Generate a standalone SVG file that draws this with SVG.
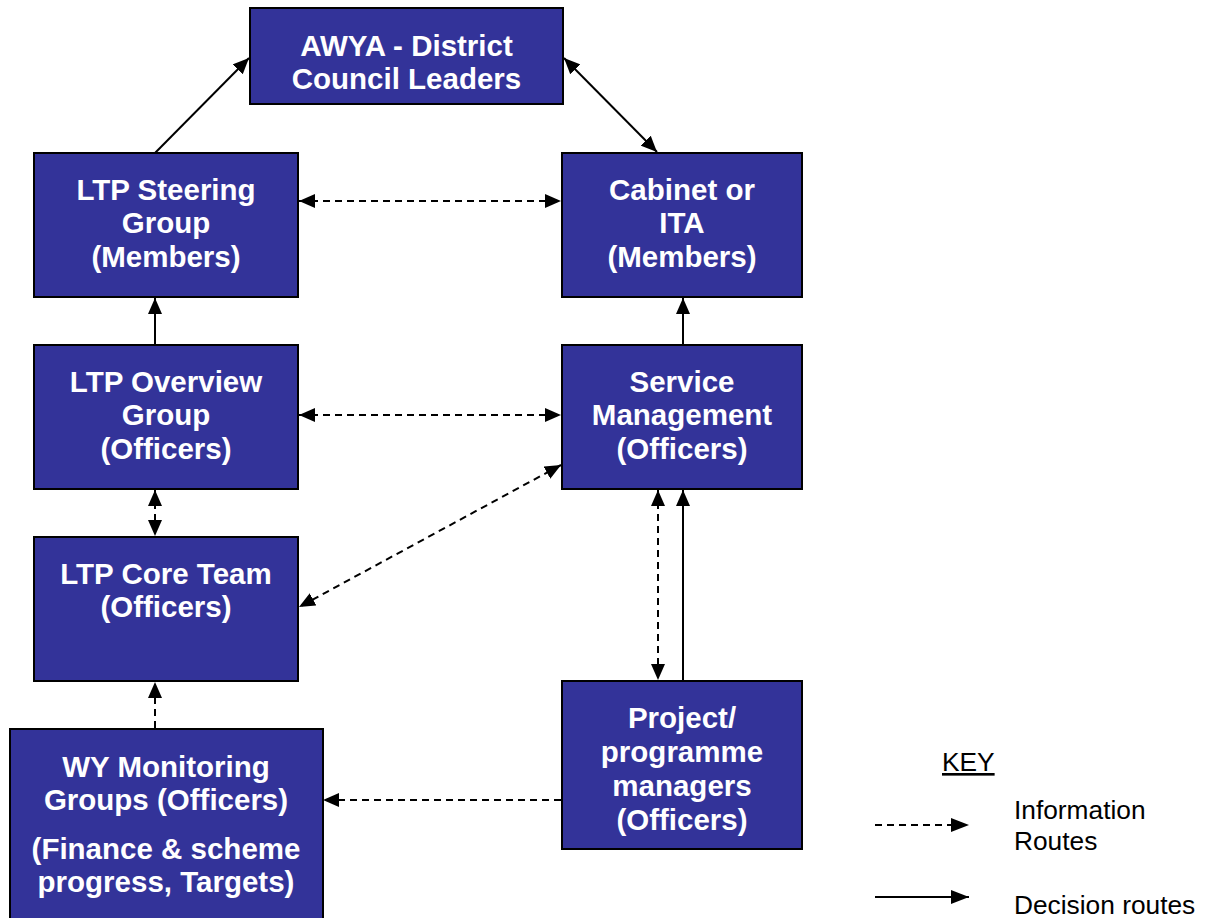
<svg xmlns="http://www.w3.org/2000/svg" width="1207" height="918" viewBox="0 0 1207 918">
<defs>
<style>
.box{fill:#333399;stroke:#000;stroke-width:2}
.t{font-family:"Liberation Sans",Arial,sans-serif;font-weight:bold;font-size:29.5px;fill:#fff;text-anchor:middle}
.k{font-family:"Liberation Sans",Arial,sans-serif;font-size:26.3px;fill:#000}
.c{fill:none;stroke:#000;stroke-width:2}
.d{stroke-dasharray:7 5}
</style>
<marker id="ah" viewBox="0 0 16 14" markerWidth="16" markerHeight="14" refX="16" refY="7" orient="auto-start-reverse" markerUnits="userSpaceOnUse">
<path d="M0,0 L16,7 L0,14 z" fill="#000"/>
</marker>
<marker id="ak" viewBox="0 0 18 14" markerWidth="18" markerHeight="14" refX="18" refY="7" orient="auto" markerUnits="userSpaceOnUse">
<path d="M0,0 L18,7 L0,14 z" fill="#000"/>
</marker>
</defs>
<rect width="1207" height="918" fill="#fff"/>
<g id="connectors">
<line class="c" x1="155" y1="153" x2="249" y2="58" marker-end="url(#ah)"/>
<line class="c" x1="564" y1="58" x2="657" y2="152" marker-start="url(#ah)" marker-end="url(#ah)"/>
<line class="c d" x1="299" y1="201" x2="561" y2="201" marker-start="url(#ah)" marker-end="url(#ah)"/>
<line class="c" x1="155" y1="344" x2="155" y2="298" marker-end="url(#ah)"/>
<line class="c" x1="683" y1="344" x2="683" y2="298" marker-end="url(#ah)"/>
<line class="c d" x1="299" y1="415" x2="561" y2="415" marker-start="url(#ah)" marker-end="url(#ah)"/>
<line class="c d" x1="155" y1="490" x2="155" y2="536" marker-start="url(#ah)" marker-end="url(#ah)"/>
<line class="c d" x1="561" y1="465" x2="299" y2="607" marker-start="url(#ah)" marker-end="url(#ah)"/>
<line class="c d" x1="658" y1="490" x2="658" y2="680" marker-start="url(#ah)" marker-end="url(#ah)"/>
<line class="c" x1="683" y1="681" x2="683" y2="490" marker-end="url(#ah)"/>
<line class="c d" x1="155" y1="728" x2="155" y2="682" marker-end="url(#ah)"/>
<line class="c d" x1="561" y1="800" x2="323" y2="800" marker-end="url(#ah)"/>
</g>
<g id="awya"><rect class="box" x="250" y="8" width="313" height="96"/>
<text class="t" x="406.5" y="56">AWYA - District</text><text class="t" x="406.5" y="89">Council Leaders</text></g>
<g id="steering"><rect class="box" x="34" y="153" width="264" height="144"/>
<text class="t" x="166" y="200">LTP Steering</text><text class="t" x="166" y="233">Group</text><text class="t" x="166" y="267">(Members)</text></g>
<g id="cabinet"><rect class="box" x="562" y="153" width="240" height="144"/>
<text class="t" x="682" y="200">Cabinet or</text><text class="t" x="682" y="233">ITA</text><text class="t" x="682" y="267">(Members)</text></g>
<g id="overview"><rect class="box" x="34" y="345" width="264" height="144"/>
<text class="t" x="166" y="392">LTP Overview</text><text class="t" x="166" y="425">Group</text><text class="t" x="166" y="459">(Officers)</text></g>
<g id="service"><rect class="box" x="562" y="345" width="240" height="144"/>
<text class="t" x="682" y="392">Service</text><text class="t" x="682" y="425">Management</text><text class="t" x="682" y="459">(Officers)</text></g>
<g id="core"><rect class="box" x="34" y="537" width="264" height="144"/>
<text class="t" x="166" y="584">LTP Core Team</text><text class="t" x="166" y="617">(Officers)</text></g>
<g id="project"><rect class="box" x="562" y="681" width="240" height="168"/>
<text class="t" x="682" y="728">Project/</text><text class="t" x="682" y="762">programme</text><text class="t" x="682" y="796">managers</text><text class="t" x="682" y="830">(Officers)</text></g>
<g id="wy"><rect class="box" x="10" y="729" width="313" height="195"/>
<text class="t" x="166" y="777">WY Monitoring</text><text class="t" x="166" y="810">Groups (Officers)</text><text class="t" x="166" y="859">(Finance &amp; scheme</text><text class="t" x="166" y="892">progress, Targets)</text></g>
<g id="key">
<text class="k" x="942" y="771" text-decoration="underline">KEY</text>
<line class="c d" x1="875" y1="825" x2="969" y2="825" marker-end="url(#ak)"/>
<line class="c" x1="875" y1="897" x2="969" y2="897" marker-end="url(#ak)"/>
<text class="k" x="1014" y="819">Information</text>
<text class="k" x="1014" y="850">Routes</text>
<text class="k" x="1014" y="914">Decision routes</text>
</g>
</svg>
